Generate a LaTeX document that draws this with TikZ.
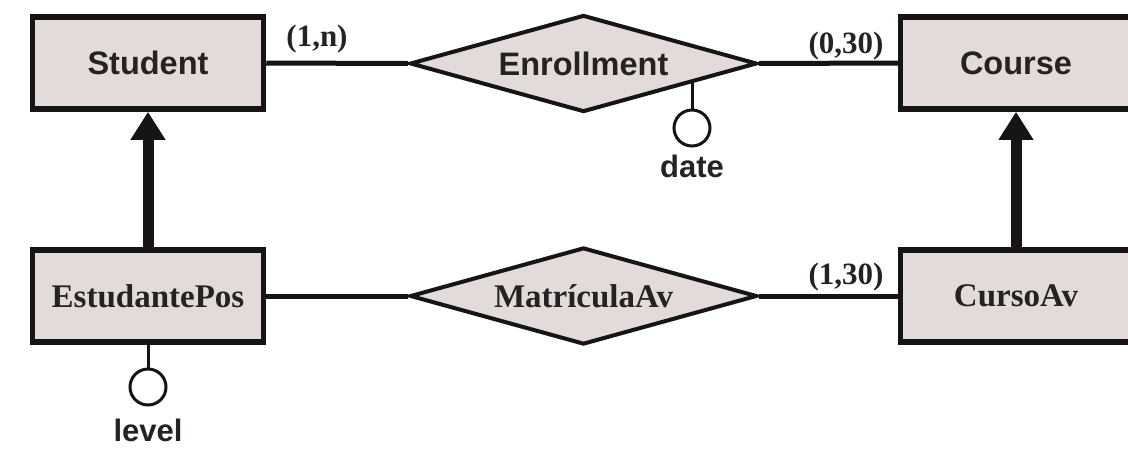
\documentclass[tikz,border=0pt]{standalone}
\usepackage{fontspec}
\setmainfont{Liberation Serif}
\newfontfamily\erSans{Liberation Sans}
\usetikzlibrary{shapes.geometric,arrows.meta,calc}
\definecolor{erfill}{RGB}{226,219,218}
\definecolor{erink}{RGB}{22,20,20}
\definecolor{ertext}{RGB}{38,34,34}
\tikzset{
  entity/.style={draw=erink, fill=erfill, line width=5.5pt, rectangle,
    minimum width=231pt, minimum height=92pt, inner sep=0pt,
    text=ertext, font=\fontsize{33}{36}\selectfont\bfseries},
  relship/.style={draw=erink, fill=erfill, line width=4pt, diamond, aspect=3.58,
    minimum width=347pt, minimum height=97pt, inner sep=0pt,
    text=ertext, font=\fontsize{33}{36}\selectfont\bfseries},
  sanslabel/.style={font=\erSans\fontsize{32.5}{36}\selectfont\bfseries},
  attrib/.style={draw=erink, circle, line width=3pt, minimum size=36pt, inner sep=0pt},
  attrtext/.style={text=ertext, font=\erSans\fontsize{31}{36}\selectfont\bfseries},
  card/.style={text=ertext, inner sep=0pt, font=\fontsize{31}{34}\selectfont\bfseries},
  link/.style={draw=erink, line width=5pt},
  stem/.style={draw=erink, line width=3pt},
  isa/.style={draw=erink, line width=11pt, -{Triangle[width=33pt,length=28pt]}}
}
\begin{document}
\begin{tikzpicture}[x=1pt,y=-1pt]
  \useasboundingbox (0,0) rectangle (1128,448);
  \clip (0,0) rectangle (1128,448);

  % entities
  \node[entity, sanslabel] (student) at (148,63) {Student};
  \node[entity, sanslabel] (course) at (1016,63) {Course};
  \node[entity] (estpos) at (148,296) {EstudantePos};
  \node[entity] (cursoav) at (1016,296) {CursoAv};

  % relationships
  \node[relship, sanslabel] (enroll) at (583.5,63.5) {Enrollment};
  \node[relship] (matav) at (583.5,296) {MatrículaAv};

  % relationship links
  \draw[link] (student.east) -- (enroll.west);
  \draw[link] (enroll.east) -- (course.west);
  \draw[link] (estpos.east) -- (matav.west);
  \draw[link] (matav.east) -- (cursoav.west);

  % cardinalities
  \node[card] (c1) at (317,39) {(1,n)};
  \node[card] (c2) at (846,46) {(0,30)};
  \node[card] (c3) at (846,277) {(1,30)};

  % attributes
  \node[attrib] (datec) at (692,128) {};
  \coordinate (datefoot) at ($(enroll.east)!0.37!(enroll.south)$);
  \draw[stem] (datec.north) -- (datec.north |- datefoot);
  \node[attrtext] (datet) at (692,166) {date};

  \node[attrib] (levelc) at (148,387) {};
  \draw[stem] (estpos.south) -- (levelc.north);
  \node[attrtext] (levelt) at (148,430) {level};

  % specialisation arrows
  \draw[isa] (estpos.north) -- (student.south);
  \draw[isa] (cursoav.north) -- (course.south);
\end{tikzpicture}
\end{document}
